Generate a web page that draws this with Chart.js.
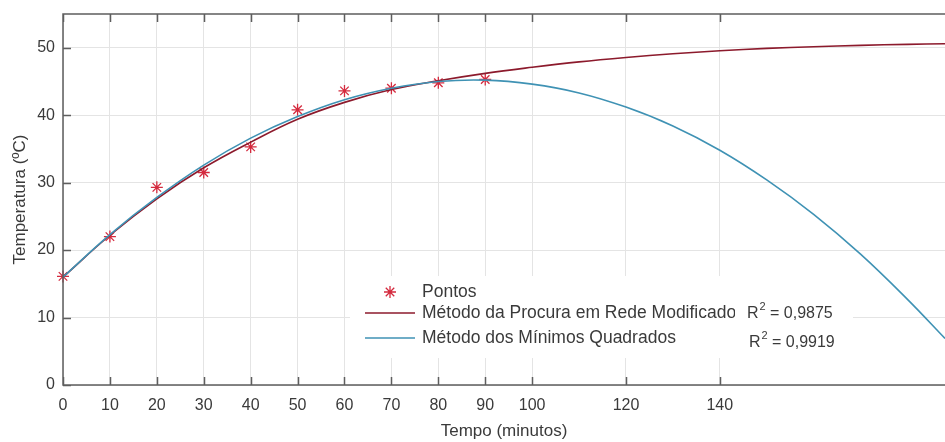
<!DOCTYPE html>
<html>
<head>
<meta charset="utf-8">
<script src="https://cdn.jsdelivr.net/npm/chart.js@4.4.1/dist/chart.umd.min.js"></script>
<style>
  html, body { margin: 0; padding: 0; background: #fff; }
  #wrap { width: 945px; height: 442px; position: relative; }
</style>
</head>
<body>
<div id="wrap"><canvas id="tempChart"></canvas></div>
<script>
// measured points
var pontosX = [0, 10, 20, 30, 40, 50, 60, 70, 80, 90];
var pontosY = [16.1, 22.0, 29.3, 31.5, 35.3, 40.8, 43.6, 44.0, 44.8, 45.3];

// fitted curves
var curveX = [0, 10, 20, 30, 40, 50, 60, 70, 80, 90, 100, 110, 120, 130, 140, 150, 160, 170, 180, 188];
var redeY = [16.0, 22.2, 27.6, 32.2, 36.0, 39.4, 41.9, 43.8, 45.1, 46.2, 47.1, 47.9, 48.55, 49.1, 49.55, 49.9, 50.15, 50.35, 50.5, 50.6];
var quadY = [16.0, 22.3, 27.8, 32.6, 36.6, 39.8, 42.3, 44.0, 45.0, 45.2, 44.6, 43.3, 41.2, 38.4, 34.8, 30.4, 25.3, 19.4, 12.7, 6.9];

var xTicks = [0, 10, 20, 30, 40, 50, 60, 70, 80, 90, 100, 120, 140];
var yTicks = [0, 10, 20, 30, 40, 50];

var seriesNames = ['Pontos', 'Método da Procura em Rede Modificado', 'Método dos Mínimos Quadrados'];
var r2Labels = ['0,9875', '0,9919'];

var pointColor = '#d42a3e';
var redeColor = '#8c1a2c';
var quadColor = '#3f92b4';
var axisColor = '#5e5e5e';
var textColor = '#3a3a3a';
var fontFamily = 'Arial, "Liberation Sans", Helvetica, sans-serif';

function toXY(xs, ys) {
  return xs.map(function(v, i) { return { x: v, y: ys[i] }; });
}

function drawStar(ctx, cx, cy, r) {
  ctx.beginPath();
  ctx.moveTo(cx - r, cy); ctx.lineTo(cx + r, cy);
  ctx.moveTo(cx, cy - r); ctx.lineTo(cx, cy + r);
  var d = r * 0.7071;
  ctx.moveTo(cx - d, cy - d); ctx.lineTo(cx + d, cy + d);
  ctx.moveTo(cx - d, cy + d); ctx.lineTo(cx + d, cy - d);
  ctx.stroke();
}

var framePlugin = {
  id: 'matlabFrame',
  afterDraw: function(chart) {
    var ctx = chart.ctx;
    var a = chart.chartArea;
    var xs = chart.scales.x;
    var ys = chart.scales.y;

    ctx.save();

    // legend box (white, no border) + legend entries
    ctx.fillStyle = '#fff';
    ctx.fillRect(350, 276, 503, 82);

    ctx.strokeStyle = pointColor;
    ctx.lineWidth = 1.3;
    drawStar(ctx, 390, 292, 6);

    ctx.lineWidth = 1.5;
    ctx.strokeStyle = redeColor;
    ctx.beginPath(); ctx.moveTo(365, 313); ctx.lineTo(415, 313); ctx.stroke();
    ctx.strokeStyle = quadColor;
    ctx.beginPath(); ctx.moveTo(365, 338); ctx.lineTo(415, 338); ctx.stroke();

    ctx.fillStyle = textColor;
    ctx.font = '17.5px ' + fontFamily;
    ctx.textBaseline = 'middle';
    ctx.textAlign = 'left';
    ctx.fillText(seriesNames[0], 422, 292);
    ctx.save();
    ctx.beginPath(); ctx.rect(350, 300, 385, 25); ctx.clip();
    ctx.fillText(seriesNames[1], 422, 313);
    ctx.restore();
    ctx.fillText(seriesNames[2], 422, 338);

    // R^2 annotations
    [[747, 314], [749, 343]].forEach(function(p, i) {
      ctx.font = '16px ' + fontFamily;
      ctx.fillText('R', p[0], p[1]);
      var w = ctx.measureText('R').width;
      ctx.font = '11px ' + fontFamily;
      ctx.fillText('2', p[0] + w + 1, p[1] - 7);
      ctx.font = '16px ' + fontFamily;
      ctx.fillText(' = ' + r2Labels[i], p[0] + w + 7, p[1]);
    });

    // axes box and inward ticks
    ctx.strokeStyle = axisColor;
    ctx.lineWidth = 1.5;
    ctx.beginPath();
    ctx.moveTo(a.right, a.top); ctx.lineTo(a.left, a.top); ctx.lineTo(a.left, a.bottom); ctx.lineTo(a.right, a.bottom);
    xTicks.forEach(function(v) {
      var px = Math.round(xs.getPixelForValue(v)) + 0.5;
      ctx.moveTo(px, a.bottom); ctx.lineTo(px, a.bottom - 8);
      ctx.moveTo(px, a.top); ctx.lineTo(px, a.top + 8);
    });
    yTicks.forEach(function(v) {
      var py = Math.round(ys.getPixelForValue(v)) + 0.5;
      ctx.moveTo(a.left, py); ctx.lineTo(a.left + 8, py);
    });
    ctx.stroke();
    ctx.restore();
  }
};

var ctx = document.getElementById('tempChart');
new Chart(ctx, {
  type: 'scatter',
  data: {
    datasets: [
      {
        label: seriesNames[2],
        type: 'line',
        data: toXY(curveX, quadY),
        borderColor: quadColor,
        borderWidth: 1.6,
        pointRadius: 0,
        tension: 0.4,
        fill: false
      },
      {
        label: seriesNames[1],
        type: 'line',
        data: toXY(curveX, redeY),
        borderColor: redeColor,
        borderWidth: 1.6,
        pointRadius: 0,
        tension: 0.4,
        fill: false
      },
      {
        label: seriesNames[0],
        data: toXY(pontosX, pontosY),
        pointStyle: 'star',
        pointRadius: 6,
        pointBorderWidth: 1.3,
        borderColor: pointColor,
        backgroundColor: pointColor,
        showLine: false,
        clip: false
      }
    ]
  },
  options: {
    responsive: true,
    maintainAspectRatio: false,
    animation: false,
    layout: { autoPadding: false, padding: { top: 14, right: 0, left: 0, bottom: 0 } },
    plugins: {
      legend: { display: false },
      tooltip: { enabled: false }
    },
    scales: {
      x: {
        type: 'linear',
        min: 0,
        max: 188,
        afterBuildTicks: function(scale) {
          scale.ticks = xTicks.map(function(v) { return { value: v }; });
        },
        afterFit: function(scale) {
          scale.height = 57;
          scale.paddingLeft = 0;
          scale.paddingRight = 0;
        },
        grid: { color: '#e4e4e4', drawTicks: false },
        border: { display: false },
        ticks: {
          color: textColor,
          padding: 11,
          maxRotation: 0,
          autoSkip: false,
          font: { family: fontFamily, size: 16 }
        },
        title: {
          display: true,
          text: 'Tempo (minutos)',
          color: textColor,
          font: { family: fontFamily, size: 17 },
          padding: { top: 0, bottom: 0 }
        }
      },
      y: {
        type: 'linear',
        min: 0,
        max: 55,
        afterBuildTicks: function(scale) {
          scale.ticks = yTicks.map(function(v) { return { value: v }; });
        },
        afterFit: function(scale) {
          scale.width = 63;
          scale.paddingTop = 0;
          scale.paddingBottom = 0;
        },
        grid: { color: '#e4e4e4', drawTicks: false },
        border: { display: false },
        ticks: {
          color: textColor,
          padding: 8,
          font: { family: fontFamily, size: 16 }
        },
        title: {
          display: true,
          text: 'Temperatura (ºC)',
          color: textColor,
          font: { family: fontFamily, size: 17 },
          padding: { top: 10, bottom: 0 }
        }
      }
    }
  },
  plugins: [framePlugin]
});
</script>
</body>
</html>
